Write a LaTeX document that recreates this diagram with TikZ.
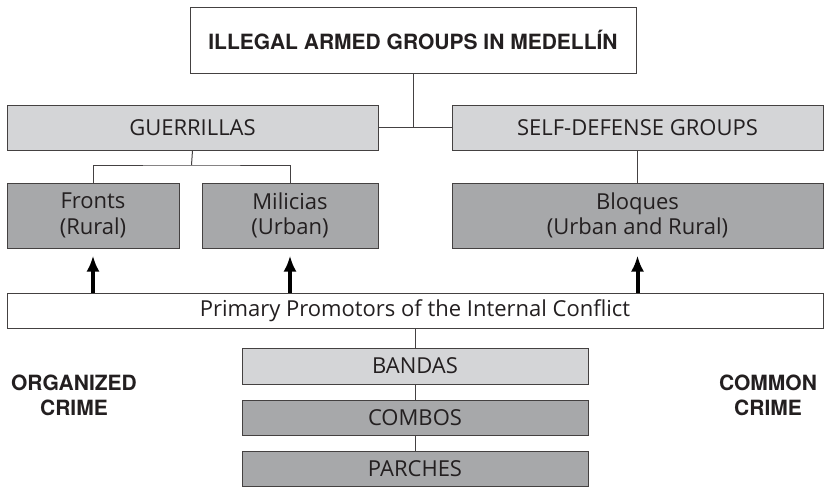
\documentclass[tikz,border=0pt]{standalone}
\usepackage{fontspec}
\setmainfont{Open Sans}
\newfontfamily\headfont{TeX Gyre Heros}
\usetikzlibrary{arrows.meta}

\definecolor{lightgrey}{HTML}{D4D5D7}
\definecolor{darkgrey}{HTML}{A7A8AA}
\definecolor{ink}{HTML}{231F20}

\begin{document}
\begin{tikzpicture}[
    x = 0.5pt, y = -0.5pt,
    font = \fontsize{11}{12.8}\selectfont,
    text = ink,
    box/.style = {draw = ink!85, line width = 0.5pt, inner sep = 0pt, align = center},
    light/.style = {box, fill = lightgrey},
    dark/.style = {box, fill = darkgrey},
    crime/.style = {font = \fontsize{10.5}{12.5}\selectfont\headfont\bfseries, align = center},
    push/.style = {line width = 2pt, -{Latex[length = 8pt, width = 6.5pt]}, shorten > = 3.5pt}]

\useasboundingbox (0, 0) rectangle (825, 487);

% Armed groups
\node[box, fill = white, minimum width = 223pt, minimum height = 33pt, font = \fontsize{10.5}{12}\selectfont\headfont\bfseries] (title) at (413, 40) {ILLEGAL ARMED GROUPS IN MEDELLÍN};

\node[light, minimum width = 185.5pt, minimum height = 22.5pt] (guer) at (192.5, 127.5) {GUERRILLAS};
\node[light, minimum width = 185.5pt, minimum height = 22.5pt] (selfdef) at (637.5, 127.5) {SELF-DEFENSE GROUPS};

\node[dark, minimum width = 86pt, minimum height = 32.5pt] (fronts) at (93, 215.5) {Fronts\\(Rural)};
\node[dark, minimum width = 88pt, minimum height = 32.5pt] (milicias) at (290, 215.5) {Milicias\\(Urban)};
\node[dark, minimum width = 185.5pt, minimum height = 32.5pt] (bloques) at (637.5, 215.5) {Bloques\\(Urban and Rural)};

\draw[ink!85, line width = 0.5pt] (guer.east) -- (selfdef.west);
\draw[ink!85, line width = 0.5pt] (title.south) -- (title.south |- guer.east);

\coordinate (split) at (191.5, 165);
\draw[ink!85, line width = 0.5pt] (guer.south) -- (split);
\draw[ink!85, line width = 0.5pt] (fronts.north) |- (split) -| (milicias.north);
\draw[ink!85, line width = 0.5pt] (selfdef.south) -- (bloques.north);

% Promotors
\node[box, fill = white, minimum width = 408pt, minimum height = 17.5pt] (primary) at (415, 310.5) {Primary Promotors of the Internal Conflict};

\draw[push] (fronts.south |- primary.north) -- (fronts.south);
\draw[push] (milicias.south |- primary.north) -- (milicias.south);
\draw[push] (bloques.south |- primary.north) -- (bloques.south);

% Common crime
\node[light, minimum width = 173pt, minimum height = 18pt] (bandas) at (415, 366) {BANDAS};
\node[dark, minimum width = 173pt, minimum height = 17.5pt] (combos) at (415, 417.5) {COMBOS};
\node[dark, minimum width = 173pt, minimum height = 17.5pt] (parches) at (415, 468.5) {PARCHES};

\draw[ink!85, line width = 0.5pt] (primary.south) -- (bandas.north);
\draw[ink!85, line width = 0.5pt] (bandas.south) -- (combos.north);
\draw[ink!85, line width = 0.5pt] (combos.south) -- (parches.north);

\node[crime] (organized) at (74, 395) {ORGANIZED\\CRIME};
\node[crime] (common) at (768, 395) {COMMON\\CRIME};

\end{tikzpicture}
\end{document}
